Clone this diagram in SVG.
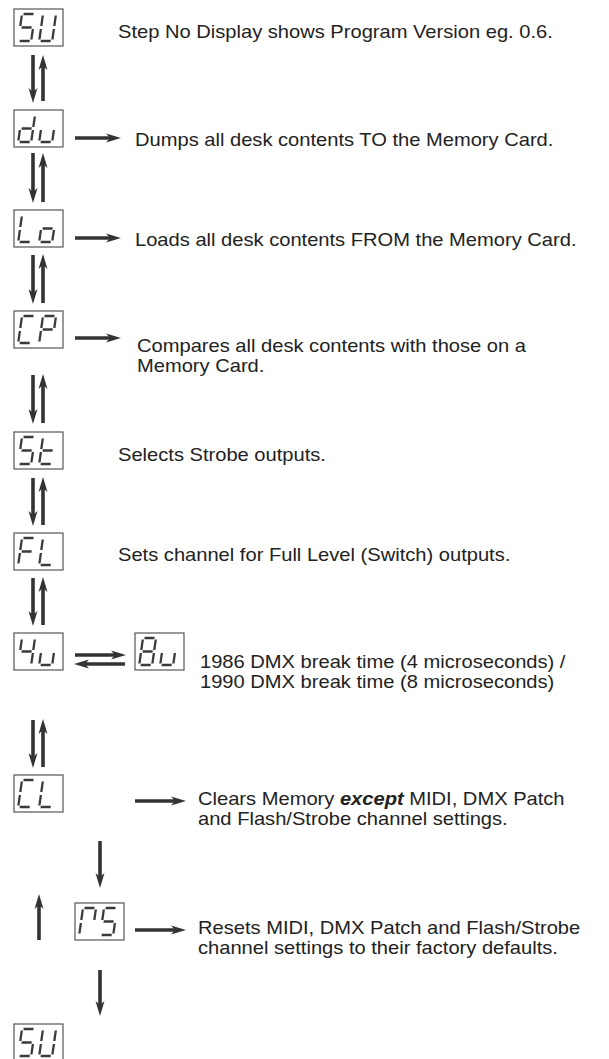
<svg xmlns="http://www.w3.org/2000/svg" xmlns:xlink="http://www.w3.org/1999/xlink" width="609" height="1059" viewBox="0 0 609 1059">
<style>
.box{fill:#fff;stroke:#555;stroke-width:1.2}
.seg{fill:none;stroke:#3a3a3a;stroke-width:2.3;stroke-linecap:butt}
.txt{font-family:"Liberation Sans",Arial,sans-serif;font-size:17.5px;fill:#222}
.arr{stroke:#333;stroke-width:3.6;fill:none}
</style>
<defs>
<path id="sa" class="seg" d="M1.5,0 H11.5"/>
<path id="sb" class="seg" d="M13,1.5 V12"/>
<path id="sc" class="seg" d="M13,15 V25.5"/>
<path id="sd" class="seg" d="M1.5,27 H11.5"/>
<path id="se" class="seg" d="M0,15 V25.5"/>
<path id="sf" class="seg" d="M0,1.5 V12"/>
<path id="sg" class="seg" d="M1.5,13.5 H11.5"/>
<marker id="ah" markerUnits="userSpaceOnUse" markerWidth="15" markerHeight="11" refX="4" refY="5" orient="auto" viewBox="0 0 15 10">
<path d="M0,0.5 L15,5 L0,9.5 L4,5 z" fill="#333"/>
</marker>
</defs>

<g id="node-su1">
<rect class="box" x="14" y="9" width="49" height="37"/>
<g transform="translate(22,14) skewX(-8)"><use href="#sa"/><use href="#sf"/><use href="#sg"/><use href="#sc"/><use href="#sd"/></g>
<g transform="translate(43,14) skewX(-8)"><use href="#sb"/><use href="#sc"/><use href="#sd"/><use href="#se"/><use href="#sf"/></g>
</g>
<g id="node-du">
<rect class="box" x="14" y="110" width="49" height="37"/>
<g transform="translate(22,115) skewX(-8)"><use href="#sb"/><use href="#sc"/><use href="#sd"/><use href="#se"/><use href="#sg"/></g>
<g transform="translate(43,115) skewX(-8)"><use href="#sc"/><use href="#sd"/><use href="#se"/></g>
</g>
<g id="node-lo">
<rect class="box" x="14" y="210" width="49" height="37"/>
<g transform="translate(22,215) skewX(-8)"><use href="#sf"/><use href="#se"/><use href="#sd"/></g>
<g transform="translate(43,215) skewX(-8)"><use href="#sg"/><use href="#sc"/><use href="#sd"/><use href="#se"/></g>
</g>
<g id="node-cp">
<rect class="box" x="14" y="311" width="49" height="37"/>
<g transform="translate(22,316) skewX(-8)"><use href="#sa"/><use href="#sf"/><use href="#se"/><use href="#sd"/></g>
<g transform="translate(43,316) skewX(-8)"><use href="#sa"/><use href="#sb"/><use href="#sf"/><use href="#sg"/><use href="#se"/></g>
</g>
<g id="node-st">
<rect class="box" x="14" y="432" width="49" height="37"/>
<g transform="translate(22,437) skewX(-8)"><use href="#sa"/><use href="#sf"/><use href="#sg"/><use href="#sc"/><use href="#sd"/></g>
<g transform="translate(43,437) skewX(-8)"><use href="#sf"/><use href="#sg"/><use href="#se"/><use href="#sd"/></g>
</g>
<g id="node-fl">
<rect class="box" x="14" y="533" width="49" height="37"/>
<g transform="translate(22,538) skewX(-8)"><use href="#sa"/><use href="#sf"/><use href="#sg"/><use href="#se"/></g>
<g transform="translate(43,538) skewX(-8)"><use href="#sf"/><use href="#se"/><use href="#sd"/></g>
</g>
<g id="node-4u">
<rect class="box" x="14" y="633" width="49" height="37"/>
<g transform="translate(22,638) skewX(-8)"><use href="#sf"/><use href="#sg"/><use href="#sb"/><use href="#sc"/></g>
<g transform="translate(43,638) skewX(-8)"><use href="#sc"/><use href="#sd"/><use href="#se"/></g>
</g>
<g id="node-8u">
<rect class="box" x="135" y="633" width="49" height="37"/>
<g transform="translate(143,638) skewX(-8)"><use href="#sa"/><use href="#sb"/><use href="#sc"/><use href="#sd"/><use href="#se"/><use href="#sf"/><use href="#sg"/></g>
<g transform="translate(164,638) skewX(-8)"><use href="#sc"/><use href="#sd"/><use href="#se"/></g>
</g>
<g id="node-cl">
<rect class="box" x="14" y="775" width="49" height="37"/>
<g transform="translate(22,780) skewX(-8)"><use href="#sa"/><use href="#sf"/><use href="#se"/><use href="#sd"/></g>
<g transform="translate(43,780) skewX(-8)"><use href="#sf"/><use href="#se"/><use href="#sd"/></g>
</g>
<g id="node-ms">
<rect class="box" x="75" y="903" width="49" height="37"/>
<g transform="translate(83,908) skewX(-8)"><use href="#sa"/><use href="#sb"/><use href="#sf"/><use href="#se"/></g>
<g transform="translate(104,908) skewX(-8)"><use href="#sa"/><use href="#sf"/><use href="#sg"/><use href="#sc"/><use href="#sd"/></g>
</g>
<g id="node-su2">
<rect class="box" x="14" y="1024" width="49" height="37"/>
<g transform="translate(22,1029) skewX(-8)"><use href="#sa"/><use href="#sf"/><use href="#sg"/><use href="#sc"/><use href="#sd"/></g>
<g transform="translate(43,1029) skewX(-8)"><use href="#sb"/><use href="#sc"/><use href="#sd"/><use href="#se"/><use href="#sf"/></g>
</g>

<g id="connectors">
<line class="arr" x1="33" y1="55" x2="33" y2="92" marker-end="url(#ah)"/>
<line class="arr" x1="43" y1="101" x2="43" y2="66" marker-end="url(#ah)"/>
<line class="arr" x1="33" y1="153" x2="33" y2="192" marker-end="url(#ah)"/>
<line class="arr" x1="43" y1="202" x2="43" y2="164" marker-end="url(#ah)"/>
<line class="arr" x1="33" y1="255" x2="33" y2="293" marker-end="url(#ah)"/>
<line class="arr" x1="43" y1="303" x2="43" y2="265" marker-end="url(#ah)"/>
<line class="arr" x1="33" y1="375" x2="33" y2="413" marker-end="url(#ah)"/>
<line class="arr" x1="43" y1="423" x2="43" y2="385" marker-end="url(#ah)"/>
<line class="arr" x1="33" y1="478" x2="33" y2="515" marker-end="url(#ah)"/>
<line class="arr" x1="43" y1="525" x2="43" y2="488" marker-end="url(#ah)"/>
<line class="arr" x1="33" y1="578" x2="33" y2="615" marker-end="url(#ah)"/>
<line class="arr" x1="43" y1="625" x2="43" y2="588" marker-end="url(#ah)"/>
<line class="arr" x1="33" y1="720" x2="33" y2="757" marker-end="url(#ah)"/>
<line class="arr" x1="43" y1="767" x2="43" y2="730" marker-end="url(#ah)"/>
<line class="arr" x1="75" y1="138" x2="110" y2="138" marker-end="url(#ah)"/>
<line class="arr" x1="75" y1="238" x2="110" y2="238" marker-end="url(#ah)"/>
<line class="arr" x1="75" y1="338" x2="110" y2="338" marker-end="url(#ah)"/>
<line class="arr" x1="75" y1="655" x2="115" y2="655" marker-end="url(#ah)"/>
<line class="arr" x1="125" y1="664" x2="85" y2="664" marker-end="url(#ah)"/>
<line class="arr" x1="135" y1="801" x2="175" y2="801" marker-end="url(#ah)"/>
<line class="arr" x1="100" y1="841" x2="100" y2="877" marker-end="url(#ah)"/>
<line class="arr" x1="39" y1="940" x2="39" y2="905" marker-end="url(#ah)"/>
<line class="arr" x1="135" y1="930" x2="175" y2="930" marker-end="url(#ah)"/>
<line class="arr" x1="100" y1="970" x2="100" y2="1005" marker-end="url(#ah)"/>
</g>

<g id="labels">
<text class="txt" transform="translate(118,38) scale(1.15,1)">Step No Display shows Program Version eg. 0.6.</text>
<text class="txt" transform="translate(135,146) scale(1.15,1)">Dumps all desk contents TO the Memory Card.</text>
<text class="txt" transform="translate(135,246) scale(1.15,1)">Loads all desk contents FROM the Memory Card.</text>
<text class="txt" transform="translate(137,352) scale(1.15,1)">Compares all desk contents with those on a</text>
<text class="txt" transform="translate(137,371.7) scale(1.15,1)">Memory Card.</text>
<text class="txt" transform="translate(118,461) scale(1.15,1)">Selects Strobe outputs.</text>
<text class="txt" transform="translate(118,561) scale(1.15,1)">Sets channel for Full Level (Switch) outputs.</text>
<text class="txt" transform="translate(200,668) scale(1.15,1)">1986 DMX break time (4 microseconds) /</text>
<text class="txt" transform="translate(200,687.7) scale(1.15,1)">1990 DMX break time (8 microseconds)</text>
<text class="txt" transform="translate(198,805) scale(1.15,1)">Clears Memory <tspan font-weight="bold" font-style="italic">except</tspan> MIDI, DMX Patch</text>
<text class="txt" transform="translate(198,824.7) scale(1.15,1)">and Flash/Strobe channel settings.</text>
<text class="txt" transform="translate(198,934) scale(1.15,1)">Resets MIDI, DMX Patch and Flash/Strobe</text>
<text class="txt" transform="translate(198,953.7) scale(1.15,1)">channel settings to their factory defaults.</text>
</g>
</svg>
